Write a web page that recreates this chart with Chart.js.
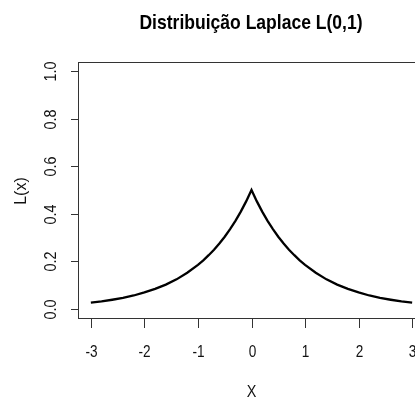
<!DOCTYPE html>
<html lang="pt">
<head>
<meta charset="UTF-8">
<title>Distribuição Laplace</title>
<style>
  html, body { margin: 0; padding: 0; background: #fff; overflow: hidden; }
  #wrap { width: 415px; height: 406px; overflow: hidden; }
</style>
</head>
<body>
<div id="wrap"><canvas id="myChart" width="440" height="406"></canvas></div>
<script src="https://cdn.jsdelivr.net/npm/chart.js"></script>
<script>
// values
const xs = [-3, -2.8, -2.6, -2.4, -2.2, -2, -1.8, -1.6, -1.4, -1.2, -1, -0.9, -0.8, -0.7, -0.6, -0.5, -0.4, -0.3, -0.2, -0.1,
            0, 0.1, 0.2, 0.3, 0.4, 0.5, 0.6, 0.7, 0.8, 0.9, 1, 1.2, 1.4, 1.6, 1.8, 2, 2.2, 2.4, 2.6, 2.8, 3]
const ys = [0.025, 0.030, 0.037, 0.045, 0.055, 0.068, 0.083, 0.101, 0.123, 0.151, 0.184, 0.203, 0.225, 0.248, 0.274, 0.303, 0.335, 0.370, 0.409, 0.452,
            0.5, 0.452, 0.409, 0.370, 0.335, 0.303, 0.274, 0.248, 0.225, 0.203, 0.184, 0.151, 0.123, 0.101, 0.083, 0.068, 0.055, 0.045, 0.037, 0.030, 0.025]
const xTicks = [-3, -2, -1, 0, 1, 2, 3]
const yTicks = [0, 0.2, 0.4, 0.6, 0.8, 1.0]
const yTickLabels = ['0.0', '0.2', '0.4', '0.6', '0.8', '1.0']
const titleText = 'Distribuição Laplace L(0,1)'
const xTitle = 'X'
const yTitle = 'L(x)'

const points = xs.map((x, i) => ({x: x, y: ys[i]}))

// R-style box, ticks and labels drawn with the chart's scales
const rAxes = {
  id: 'rAxes',
  afterDraw(chart) {
    const c = chart.ctx
    const a = chart.chartArea
    const sx = chart.scales.x
    const sy = chart.scales.y
    c.save()
    c.strokeStyle = '#333'
    c.lineWidth = 1
    c.strokeRect(Math.round(a.left) + 0.5, Math.round(a.top) + 0.5,
                 Math.round(a.right - a.left), Math.round(a.bottom - a.top))

    c.fillStyle = '#111'
    c.font = '16px "Liberation Sans", Arial, sans-serif'
    c.textAlign = 'center'
    c.textBaseline = 'middle'
    // x ticks
    xTicks.forEach(v => {
      const px = Math.round(sx.getPixelForValue(v)) + 0.5
      c.beginPath()
      c.moveTo(px, a.bottom + 1)
      c.lineTo(px, a.bottom + 10)
      c.stroke()
      c.save()
      c.translate(px, 353)
      c.scale(0.85, 1)
      c.fillText(String(v), 0, 0)
      c.restore()
    })
    // y ticks
    yTicks.forEach((v, i) => {
      const py = Math.round(sy.getPixelForValue(v)) + 0.5
      c.beginPath()
      c.moveTo(a.left, py)
      c.lineTo(a.left - 7, py)
      c.stroke()
      c.save()
      c.translate(52, py)
      c.rotate(-Math.PI / 2)
      c.scale(0.9, 1)
      c.fillText(yTickLabels[i], 0, 0)
      c.restore()
    })
    // axis titles
    c.save()
    c.translate(sx.getPixelForValue(0), 393)
    c.scale(0.9, 1)
    c.fillText(xTitle, 0, 0)
    c.restore()
    c.save()
    c.translate(22, 191)
    c.rotate(-Math.PI / 2)
    c.fillText(yTitle, 0, 0)
    c.restore()
    // main title
    c.save()
    c.fillStyle = '#000'
    c.font = 'bold 21px "Liberation Sans", Arial, sans-serif'
    c.translate(251, 23)
    c.scale(0.835, 1)
    c.fillText(titleText, 0, 0)
    c.restore()
    c.restore()
  }
}

const ctx = document.getElementById('myChart')
new Chart(ctx, {
  type: 'line',
  data: {
    datasets: [{
      data: points,
      borderColor: '#000',
      borderWidth: 2.3,
      pointRadius: 0,
      tension: 0,
      fill: false
    }]
  },
  options: {
    responsive: false,
    animation: false,
    events: [],
    layout: { padding: { left: 78, top: 62, right: 15, bottom: 88 } },
    plugins: { legend: { display: false }, tooltip: { enabled: false } },
    scales: {
      x: { type: 'linear', min: -3.24, max: 3.24, display: false },
      y: { type: 'linear', min: -0.04, max: 1.04, display: false }
    }
  },
  plugins: [rAxes]
})
</script>
</body>
</html>
